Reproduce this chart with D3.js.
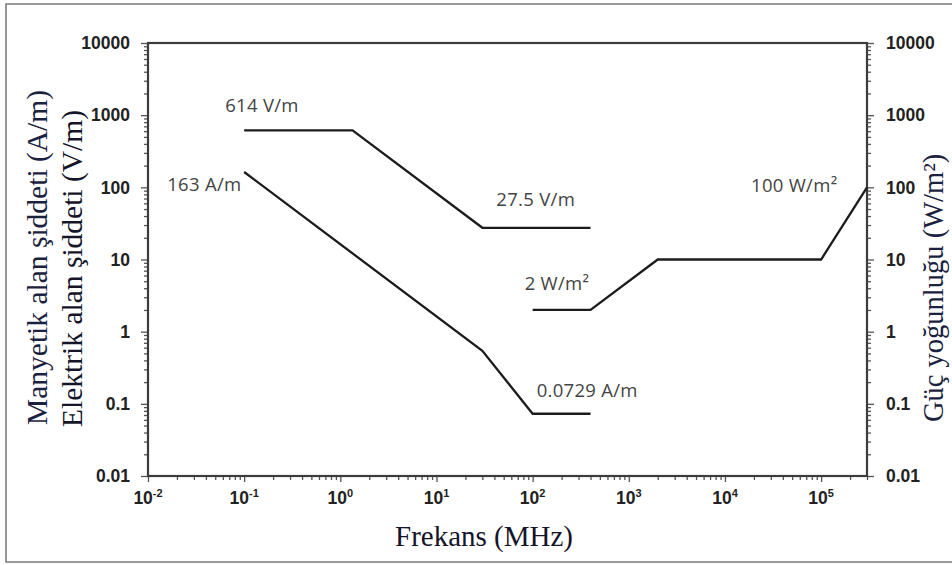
<!DOCTYPE html>
<html>
<head>
<meta charset="utf-8">
<script src="https://cdn.jsdelivr.net/npm/d3@7"></script>
<style>
  html, body { margin: 0; padding: 0; background: #fff; }
  svg { display: block; }
</style>
</head>
<body>
<script>
// ---------- DATA ----------
const electricField = [ // [frequency MHz, V/m]
  [0.1, 614], [1.34, 614], [30, 27.5], [400, 27.5]
];
const magneticField = [ // [frequency MHz, A/m]
  [0.1, 163], [30, 0.543], [100, 0.0729], [400, 0.0729]
];
const powerDensity = [ // [frequency MHz, W/m²]
  [100, 2], [400, 2], [2000, 10], [100000, 10], [300000, 100]
];
const annotations = [ // [label, frequency anchor, value anchor]
  ["614 V/m", 0.1, 614],
  ["163 A/m", 0.1, 163],
  ["27.5 V/m", 30, 27.5],
  ["2 W/m²", 100, 2],
  ["0.0729 A/m", 100, 0.0729],
  ["100 W/m²", 300000, 100]
];
const xTickExponents = [-2, -1, 0, 1, 2, 3, 4, 5];
const yTickValues = [0.01, 0.1, 1, 10, 100, 1000, 10000];
const yTickLabels = ["0.01", "0.1", "1", "10", "100", "1000", "10000"];
const xTitle = "Frekans (MHz)";
const yTitleLeft1 = "Manyetik alan şiddeti (A/m)";
const yTitleLeft2 = "Elektrik alan şiddeti (V/m)";
const yTitleRight = "Güç yoğunluğu (W/m²)";

// ---------- LAYOUT ----------
const W = 952, H = 565;
const L = 148, R = 867, T = 43, B = 476;

const svg = d3.select("body").append("svg").attr("width", W).attr("height", H);
svg.append("rect").attr("width", W).attr("height", H).attr("fill", "#fff");

// outer picture border
svg.append("path")
  .attr("d", `M${W},4 H6 V562 H${W}`)
  .attr("fill", "none").attr("stroke", "#7a7a7a").attr("stroke-width", 1.6);

const x = d3.scaleLog().domain([0.01, 300000]).range([L, R]);
const y = d3.scaleLog().domain([0.01, 10000]).range([B, T]);

// minor tick values
const xMinor = [];
for (let e = -2; e <= 5; e++) for (let m = 2; m <= 9; m++) {
  const v = m * Math.pow(10, e);
  if (v <= 300000) xMinor.push(v);
}
const yMinor = [];
for (let e = -2; e < 4; e++) for (let m = 2; m <= 9; m++) yMinor.push(m * Math.pow(10, e));
const xMajor = xTickExponents.map(e => Math.pow(10, e));

function styleAxis(g) {
  g.select(".domain").remove();
  g.selectAll(".tick line").attr("stroke", "#555").attr("stroke-width", 1.3);
  g.selectAll(".tick text").remove();
}

// x axis ticks
svg.append("g").attr("transform", `translate(0,${B})`)
  .call(d3.axisBottom(x).tickValues(xMajor).tickSize(6).tickSizeOuter(0).tickFormat(""))
  .call(styleAxis);
svg.append("g").attr("transform", `translate(0,${B})`)
  .call(d3.axisBottom(x).tickValues(xMinor).tickSize(4).tickSizeOuter(0).tickFormat(""))
  .call(styleAxis);
// left axis
svg.append("g").attr("transform", `translate(${L},0)`)
  .call(d3.axisLeft(y).tickValues(yTickValues).tickSize(7).tickSizeOuter(0).tickFormat(""))
  .call(styleAxis);
svg.append("g").attr("transform", `translate(${L},0)`)
  .call(d3.axisLeft(y).tickValues(yMinor).tickSize(4).tickSizeOuter(0).tickFormat(""))
  .call(styleAxis);
// right axis
svg.append("g").attr("transform", `translate(${R},0)`)
  .call(d3.axisRight(y).tickValues(yTickValues).tickSize(7).tickSizeOuter(0).tickFormat(""))
  .call(styleAxis);
svg.append("g").attr("transform", `translate(${R},0)`)
  .call(d3.axisRight(y).tickValues(yMinor).tickSize(4).tickSizeOuter(0).tickFormat(""))
  .call(styleAxis);

// plot frame
svg.append("rect")
  .attr("x", x(0.01)).attr("y", y(10000))
  .attr("width", x(300000) - x(0.01)).attr("height", y(0.01) - y(10000))
  .attr("fill", "none").attr("stroke", "#3c3c3c").attr("stroke-width", 2.2);

// tick labels
const tickFont = "'Liberation Sans', Arial, sans-serif";
yTickValues.forEach((v, i) => {
  svg.append("text").attr("x", L - 18).attr("y", y(v)).attr("dy", "0.36em")
    .attr("text-anchor", "end").attr("font-family", tickFont).attr("font-weight", "bold")
    .attr("font-size", 17.5).attr("fill", "#222").text(yTickLabels[i]);
  svg.append("text").attr("x", R + 19).attr("y", y(v)).attr("dy", "0.36em")
    .attr("text-anchor", "start").attr("font-family", tickFont).attr("font-weight", "bold")
    .attr("font-size", 17.5).attr("fill", "#222").text(yTickLabels[i]);
});
xTickExponents.forEach(e => {
  const t = svg.append("text").attr("x", x(Math.pow(10, e))).attr("y", 504)
    .attr("text-anchor", "middle").attr("font-family", tickFont).attr("font-weight", "bold")
    .attr("font-size", 17.5).attr("fill", "#222");
  t.append("tspan").text("10");
  t.append("tspan").attr("font-size", 11).attr("dy", -7).text(String(e));
});

// data lines
const line = d3.line().x(d => x(d[0])).y(d => y(d[1]));
[electricField, magneticField, powerDensity].forEach(s => {
  svg.append("path").datum(s).attr("d", line)
    .attr("fill", "none").attr("stroke", "#1c1c1c").attr("stroke-width", 2.3)
    .attr("stroke-linejoin", "miter");
});

// annotations
const annFont = "'Open Sans', Lato, sans-serif";
const annOffsets = [[-19, -18], [-77, 19], [14, -22], [-8, -20], [4, -17], [-116, 5]];
annotations.forEach((a, i) => {
  svg.append("text")
    .attr("x", x(a[1]) + annOffsets[i][0]).attr("y", y(a[2]) + annOffsets[i][1])
    .attr("font-family", annFont).attr("font-size", 18.5).attr("fill", "#444")
    .attr("letter-spacing", 0.3).text(a[0]);
});

// axis titles
const titleFont = "'Liberation Serif', 'Times New Roman', serif";
svg.append("text").attr("x", 484).attr("y", 546).attr("text-anchor", "middle")
  .attr("font-family", titleFont).attr("font-size", 29).attr("fill", "#15152a").text(xTitle);
svg.append("text").attr("transform", "translate(47,425) rotate(-90)")
  .attr("font-family", titleFont).attr("font-size", 29.5).attr("fill", "#1a2240").text(yTitleLeft1);
svg.append("text").attr("transform", "translate(82,427) rotate(-90)")
  .attr("font-family", titleFont).attr("font-size", 29.5).attr("fill", "#15152a").text(yTitleLeft2);
svg.append("text").attr("transform", "translate(943,422) rotate(-90)")
  .attr("font-family", titleFont).attr("font-size", 28.5).attr("fill", "#1a2240").text(yTitleRight);
</script>
</body>
</html>
